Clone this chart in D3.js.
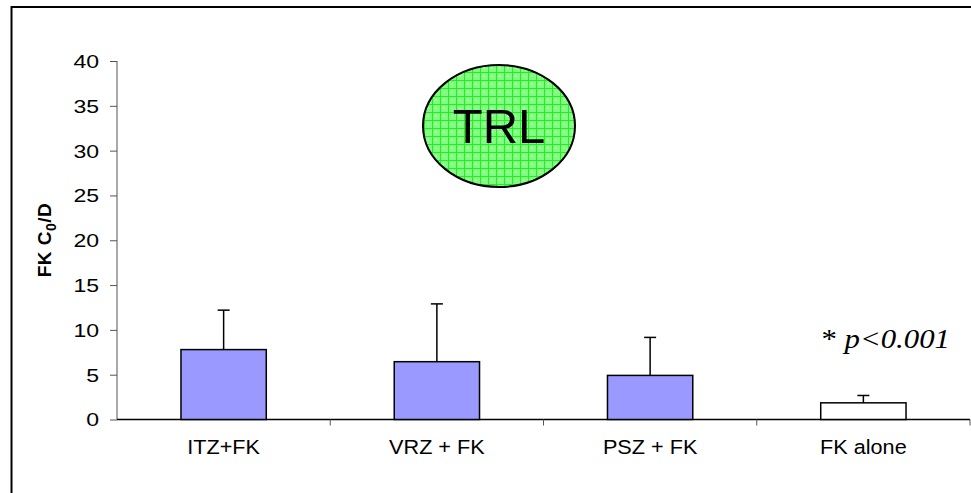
<!DOCTYPE html>
<html>
<head>
<meta charset="utf-8">
<script src="https://cdn.jsdelivr.net/npm/d3@7"></script>
<style>
body { margin: 0; background: #fff; }
svg { display: block; }
</style>
</head>
<body>
<svg width="971" height="493"></svg>
<script>
// chart data
var categories = ['ITZ+FK', 'VRZ + FK', 'PSZ + FK', 'FK alone']
var means = [7.8, 6.45, 4.92, 1.86]
var errUpper = [12.2, 12.9, 9.16, 2.68]
var barColors = ['#9999ff', '#9999ff', '#9999ff', '#ffffff']
var yTicks = [0, 5, 10, 15, 20, 25, 30, 35, 40]

var svg = d3.select('svg')
var sans = 'Liberation Sans, Arial, sans-serif'

// outer frame (top + left only visible)
svg.append('path')
    .attr('d', 'M11.5,493 L11.5,7 L971,7')
    .attr('fill', 'none')
    .attr('stroke', '#000')
    .attr('stroke-width', 2)

var x = d3.scaleBand().domain(categories).range([117, 970]).paddingInner(0.6).paddingOuter(0.3)
var xb = d3.scaleBand().domain(categories).range([117, 970])
var y = d3.scaleLinear().domain([0, 40]).range([419.5, 61])

// y axis
var yAxis = svg.append('g')
    .attr('transform', 'translate(117,0)')
    .call(d3.axisLeft(y).tickValues(yTicks).tickSize(7))
yAxis.select('.domain').attr('stroke', '#555').attr('d', 'M0,' + y(40) + 'V' + y(0))
yAxis.selectAll('.tick line').attr('stroke', '#555')
// text looks a bit wider than plain Arial, so stretch horizontally
yAxis.selectAll('text')
    .attr('font-family', sans).attr('font-size', 18).attr('fill', '#000')
    .attr('x', -18 / 1.28).attr('dy', '0.36em')
    .attr('transform', 'scale(1.28,1)')

// x axis line and separator ticks
svg.append('line')
    .attr('x1', 117).attr('x2', 970)
    .attr('y1', y(0)).attr('y2', y(0))
    .attr('stroke', '#000').attr('stroke-width', 1.5)
svg.selectAll('.sep')
    .data(categories)
    .enter().append('line')
    .attr('x1', function (d) { return xb(d) + xb.bandwidth() })
    .attr('x2', function (d) { return xb(d) + xb.bandwidth() })
    .attr('y1', y(0)).attr('y2', y(0) + 6)
    .attr('stroke', '#555')

// error bars
svg.selectAll('.err')
    .data(categories)
    .enter().append('line')
    .attr('x1', function (d) { return x(d) + x.bandwidth() / 2 })
    .attr('x2', function (d) { return x(d) + x.bandwidth() / 2 })
    .attr('y1', function (d, i) { return y(means[i]) })
    .attr('y2', function (d, i) { return y(errUpper[i]) })
    .attr('stroke', '#000').attr('stroke-width', 1.5)
svg.selectAll('.cap')
    .data(categories)
    .enter().append('line')
    .attr('x1', function (d) { return x(d) + x.bandwidth() / 2 - 6 })
    .attr('x2', function (d) { return x(d) + x.bandwidth() / 2 + 6 })
    .attr('y1', function (d, i) { return y(errUpper[i]) })
    .attr('y2', function (d, i) { return y(errUpper[i]) })
    .attr('stroke', '#000').attr('stroke-width', 1.5)

// bars
svg.selectAll('.bar')
    .data(categories)
    .enter().append('rect')
    .attr('x', function (d) { return x(d) })
    .attr('width', x.bandwidth())
    .attr('y', function (d, i) { return y(means[i]) })
    .attr('height', function (d, i) { return y(0) - y(means[i]) })
    .attr('fill', function (d, i) { return barColors[i] })
    .attr('stroke', '#000').attr('stroke-width', 1.5)

// category labels
svg.selectAll('.cat')
    .data(categories)
    .enter().append('text')
    .attr('transform', function (d) {
        return 'translate(' + (xb(d) + xb.bandwidth() / 2) + ',454) scale(1.11,1)'
    })
    .attr('text-anchor', 'middle')
    .attr('font-family', sans)
    .attr('font-size', 19.5)
    .text(function (d) { return d })

// y label
var yl = svg.append('text')
    .attr('transform', 'translate(51,240) rotate(-90)')
    .attr('text-anchor', 'middle')
    .attr('font-family', sans)
    .attr('font-size', 19)
    .attr('font-weight', 'bold')
    .attr('letter-spacing', 0.5)
yl.append('tspan').text('FK C')
yl.append('tspan').attr('font-size', 14).attr('dy', 5).text('0')
yl.append('tspan').attr('dy', -5).text('/D')

// p value
var pv = svg.append('text')
    .attr('transform', 'translate(950,348) scale(1.1,1)')
    .attr('text-anchor', 'end')
    .attr('font-family', 'Liberation Serif, Times New Roman, serif')
    .attr('font-size', 28)
pv.append('tspan').text('* ')
pv.append('tspan').attr('font-style', 'italic').text('p<0.001')

// TRL badge with grid pattern
var defs = svg.append('defs')
var pat = defs.append('pattern')
    .attr('id', 'grid')
    .attr('patternUnits', 'userSpaceOnUse')
    .attr('width', 8).attr('height', 8)
pat.append('rect').attr('width', 8).attr('height', 8).attr('fill', '#80fc80')
pat.append('rect').attr('x', 3).attr('y', 3).attr('width', 2).attr('height', 2).attr('fill', '#a8ffa8')
pat.append('path').attr('d', 'M0,0.5H8M0.5,0V8').attr('stroke', '#22ee22').attr('stroke-width', 1)

svg.append('ellipse')
    .attr('cx', 499).attr('cy', 126)
    .attr('rx', 76).attr('ry', 61)
    .attr('fill', 'url(#grid)')
    .attr('stroke', '#000').attr('stroke-width', 2)
svg.append('text')
    .attr('x', 499).attr('y', 143)
    .attr('text-anchor', 'middle')
    .attr('font-family', sans)
    .attr('font-size', 49)
    .text('TRL')
</script>
</body>
</html>
